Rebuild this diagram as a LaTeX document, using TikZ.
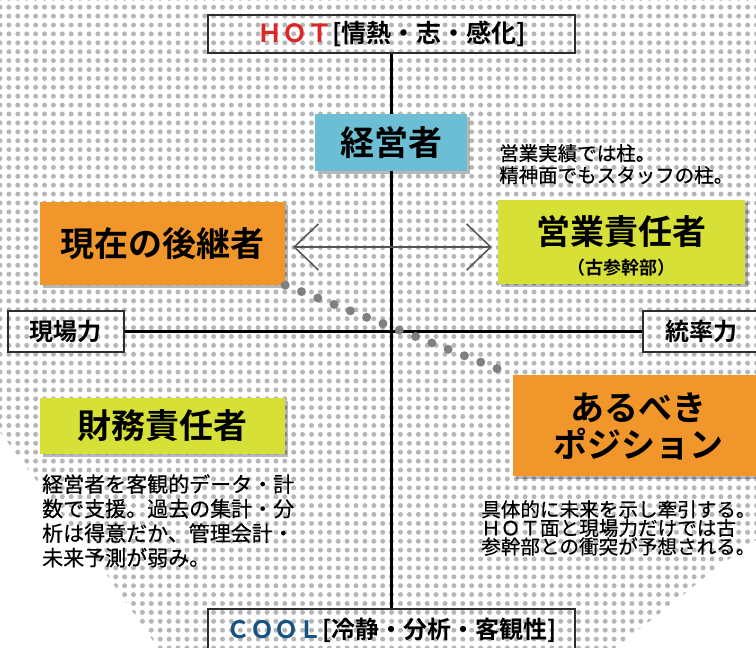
\documentclass[tikz,border=0pt]{standalone}
\usepackage{fontspec}
\setmainfont{Noto Sans CJK JP}[BoldFont={Noto Sans CJK JP Bold}]
\newfontfamily\jpmed{Noto Sans CJK JP}[FakeBold=0.5]
\usetikzlibrary{patterns.meta,arrows.meta,shadows}
\definecolor{bgdot}{RGB}{182,182,182}
\definecolor{cdot}{RGB}{128,128,128}
\definecolor{corange}{RGB}{241,150,42}
\definecolor{clime}{RGB}{214,224,54}
\definecolor{cblue}{RGB}{108,190,212}
\definecolor{chot}{RGB}{222,38,38}
\definecolor{ccool}{RGB}{22,82,132}
\definecolor{cframe}{RGB}{45,45,45}
\definecolor{carrow}{RGB}{85,85,85}
\tikzset{
  axisbox/.style={draw=cframe, line width=1.2pt, inner sep=0pt, font=\bfseries},
  colbox/.style={inner sep=0pt, drop shadow={shadow xshift=3pt, shadow yshift=-3pt, fill=black, opacity=.28}},
  bigtxt/.style={font=\fontsize{34pt}{38pt}\selectfont\bfseries, inner sep=0pt},
  desc/.style={font=\jpmed\fontsize{#1}{#1}\selectfont, inner sep=0pt, align=left, anchor=north west},
  axisline/.style={line width=3.3pt, black},
}
\begin{document}
\begin{tikzpicture}[x=1pt,y=-1pt]
\useasboundingbox (0,0) rectangle (756,648);
\fill[white] (0,0) rectangle (756,648);
\fill[pattern={Dots[distance=8.9pt,radius=2.5pt]}, pattern color=bgdot]
  (0,0) -- (756,0) -- (756,540) -- (711,572) -- (678,599) -- (615,648)
  -- (158,648) -- (100,565) -- (0,432) -- cycle;

% axis label boxes
\node[axisbox, minimum width=367pt, minimum height=38pt] (hot) at (391.5,34)
  {\fontsize{25pt}{28pt}\selectfont\textcolor{chot}{ＨＯＴ}[情熱・志・感化]};
\node[axisbox, minimum width=367pt, minimum height=42pt] (cool) at (391.5,630)
  {\fontsize{24pt}{28pt}\selectfont\textcolor{ccool}{ＣＯＯＬ}[冷静・分析・客観性]};
\node[axisbox, minimum width=116pt, minimum height=41pt] (genba) at (66,331.5)
  {\fontsize{24pt}{28pt}\selectfont 現場力};
\node[axisbox, minimum width=116pt, minimum height=41pt] (tousotsu) at (701,331.5)
  {\fontsize{24pt}{28pt}\selectfont 統率力};

% axes
\draw[axisline] (hot.south) -- (cool.north);
\draw[axisline] (genba.east) -- (tousotsu.west);

% coloured boxes
\node[colbox, fill=cblue, minimum width=152pt, minimum height=57pt] (keiei) at (391,142.5) {};
\node[bigtxt] (keieit) at (keiei.center) {経営者};
\node[colbox, fill=corange, minimum width=245pt, minimum height=83pt] (succ) at (162.5,243.5) {};
\node[bigtxt] (succt) at (succ.center) {現在の後継者};
\node[colbox, fill=clime, minimum width=247pt, minimum height=84pt] (sales) at (621.5,242) {};
\node[bigtxt] (salest) at (621.5,232) {営業責任者};
\node[font=\fontsize{18pt}{20pt}\selectfont\bfseries, inner sep=0pt] (salessub) at (621.5,268) {（古参幹部）};
\node[colbox, fill=clime, minimum width=245pt, minimum height=56pt] (zaimu) at (162.5,426) {};
\node[bigtxt] (zaimut) at (zaimu.center) {財務責任者};
\node[colbox, fill=corange, minimum width=249pt, minimum height=101pt] (ideal) at (637.5,425.5) {};
\node[bigtxt] (idealt1) at (638,408) {あるべき};
\node[bigtxt] (idealt2) at (638,444) {ポジション};

% double arrow
\draw[carrow, line width=1.5pt,
  {Straight Barb[length=24pt,width=46pt]}-{Straight Barb[length=24pt,width=46pt]}]
  ([xshift=8pt,yshift=-3.5pt]succ.east) -- ([xshift=-6pt,yshift=-5pt]sales.west);

% dotted connector
\draw[cdot, line width=9pt, line cap=round, dash pattern=on 0pt off 17.51pt]
  (succ.south east) -- (ideal.north west);

% descriptions
\node[desc=19.5pt] (d1) at (499,144) {営業実績では柱。\\[2.5pt]精神面でもスタッフの柱。};
\node[desc=21pt] (d2) at (42,474) {経営者を客観的データ・計\\[3.5pt]数で支援。過去の集計・分\\[3.5pt]析は得意だか、管理会計・\\[3.5pt]未来予測が弱み。};
\node[desc=19.6pt] (d3) at (481,500) {具体的に未来を示し牽引する。\\[-1pt]ＨＯＴ面と現場力だけでは古\\[-1pt]参幹部との衝突が予想される。};
\end{tikzpicture}
\end{document}
